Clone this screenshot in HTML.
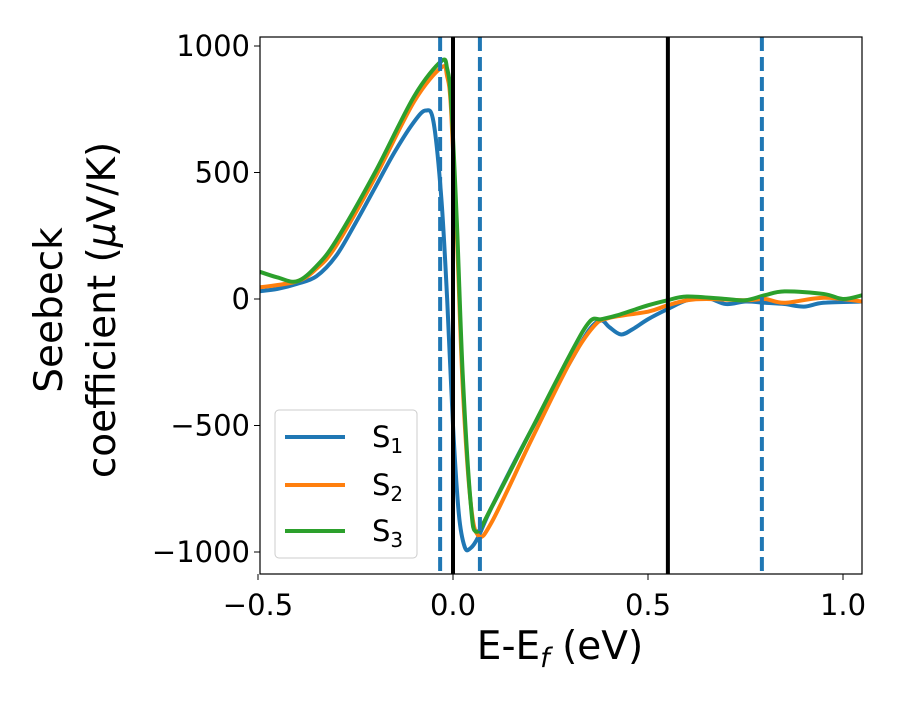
<!DOCTYPE html>
<html><head><meta charset="utf-8"><style>
body{margin:0;background:#fff}
svg{font-family:"DejaVu Sans","Liberation Sans",sans-serif}
</style></head><body>
<svg id="chart" width="900" height="700">
<g id="marks"></g>
</svg>
<script>
const xs1=[-0.5,-0.45,-0.4,-0.35,-0.3,-0.25,-0.2,-0.15,-0.1,-0.07,-0.05,-0.03,-0.015,0,0.015,0.03,0.045,0.065,0.1,0.2,0.3,0.35,0.38,0.4,0.43,0.46,0.5,0.55,0.6,0.65,0.7,0.75,0.8,0.85,0.9,0.95,1.05];
const s1=[30,40,60,90,170,300,440,580,700,745,700,400,0,-500,-850,-980,-985,-940,-820,-520,-250,-120,-85,-110,-140,-120,-80,-40,-5,5,-20,-10,-15,-20,-30,-15,-10];
const xs2=[-0.5,-0.4,-0.35,-0.3,-0.2,-0.1,-0.03,-0.015,-0.005,0.01,0.025,0.045,0.065,0.1,0.2,0.3,0.36,0.4,0.5,0.55,0.6,0.65,0.75,0.8,0.85,0.95,1.05];
const s2=[45,70,120,210,480,780,915,880,750,250,-350,-800,-935,-880,-560,-250,-110,-75,-50,-25,-5,0,-5,0,-15,5,-10];
const xs3=[-0.5,-0.45,-0.4,-0.35,-0.3,-0.2,-0.1,-0.03,-0.015,-0.005,0.01,0.025,0.045,0.06,0.1,0.2,0.3,0.35,0.38,0.42,0.5,0.55,0.6,0.7,0.75,0.8,0.85,0.95,1.0,1.05];
const s3=[110,85,70,130,230,500,800,940,910,780,300,-300,-800,-920,-820,-520,-220,-90,-80,-65,-25,-5,10,0,-5,15,30,20,0,15];
const solidLines=[0,0.551];
const dashedLines=[-0.033,0.069,0.792];
const xTicks=[-0.5,0,0.5,1.0];
const xTickLabels=["\u22120.5","0.0","0.5","1.0"];
const yTicks=[1000,500,0,-500,-1000];
const yTickLabels=["1000","500","0","\u2212500","\u22121000"];

const L=260,R=862,T=37,B=574;
const X=v=>453+v*390;
const Y=v=>299-v*0.253;
const NS="http://www.w3.org/2000/svg";
const g=document.getElementById('marks');
function mk(t,a,p){const e=document.createElementNS(NS,t);for(const k in a)e.setAttribute(k,a[k]);(p||g).appendChild(e);return e;}
const clip=mk('clipPath',{id:'pc'});mk('rect',{x:L,y:T,width:R-L,height:B-T},clip);
function smooth(xs,ys){const p=xs.map((x,i)=>[X(x),Y(ys[i])]);let d='M'+p[0][0]+','+p[0][1];
for(let i=0;i<p.length-1;i++){const p0=p[i-1]||p[i],p1=p[i],p2=p[i+1],p3=p[i+2]||p2;
const c1=[p1[0]+(p2[0]-p0[0])/6,p1[1]+(p2[1]-p0[1])/6],c2=[p2[0]-(p3[0]-p1[0])/6,p2[1]-(p3[1]-p1[1])/6];
d+=`C${c1[0]},${c1[1]} ${c2[0]},${c2[1]} ${p2[0]},${p2[1]}`;}return d;}
const cg=mk('g',{'clip-path':'url(#pc)'});


const series=[[xs1,s1,'#1f77b4','series-s1'],[xs2,s2,'#ff7f0e','series-s2'],[xs3,s3,'#2ca02c','series-s3']];
series.forEach(s=>{const e=mk('path',{d:smooth(s[0],s[1]),fill:'none',stroke:s[2],'stroke-width':4},cg);

});
solidLines.forEach(v=>{const e=mk('line',{x1:X(v),x2:X(v),y1:T,y2:B,stroke:'#000','stroke-width':4},cg);

});
dashedLines.forEach(v=>{const e=mk('line',{x1:X(v),x2:X(v),y1:T,y2:B,stroke:'#1f77b4','stroke-width':4,'stroke-dasharray':'14,6'},cg);

});
const fr=mk('rect',{x:L,y:T,width:R-L,height:B-T,fill:'none',stroke:'#000','stroke-width':1.2});


xTicks.forEach((v,i)=>{mk('line',{x1:X(v),x2:X(v),y1:B,y2:B+6,stroke:'#000'});
const t=mk('text',{x:X(v),y:B+41,'text-anchor':'middle','font-size':29});t.textContent=xTickLabels[i];

});
yTicks.forEach((v,i)=>{mk('line',{x1:L-6,x2:L,y1:Y(v),y2:Y(v),stroke:'#000'});
const t=mk('text',{x:L-10,y:Y(v)+10,'text-anchor':'end','font-size':29});t.textContent=yTickLabels[i];

});
</script>
<svg width="900" height="700" style="position:absolute;left:0;top:0">
<text x="560" y="659" text-anchor="middle" font-size="39">E-E<tspan font-style="italic" font-size="27" dy="8">f</tspan><tspan dy="-8"> (eV)</tspan></text>
<g transform="translate(62,310) rotate(-90)">
<text x="0" y="0" text-anchor="middle" font-size="39">Seebeck</text>
<text x="0" y="53" text-anchor="middle" font-size="39">coefficient  (<tspan font-style="italic">μ</tspan>V/K)</text>
</g>
<g>
<rect x="275" y="410" width="142" height="148" rx="4" fill="#fff" fill-opacity="0.8" stroke="#ccc"/>
<line x1="285" x2="345" y1="437" y2="437" stroke="#1f77b4" stroke-width="4"/>
<text x="372" y="447" font-size="29">S<tspan font-size="20" dy="6">1</tspan></text>
<line x1="285" x2="345" y1="485" y2="485" stroke="#ff7f0e" stroke-width="4"/>
<text x="372" y="495" font-size="29">S<tspan font-size="20" dy="6">2</tspan></text>
<line x1="285" x2="345" y1="531" y2="531" stroke="#2ca02c" stroke-width="4"/>
<text x="372" y="541" font-size="29">S<tspan font-size="20" dy="6">3</tspan></text>
</g>
</svg>
</body></html>
